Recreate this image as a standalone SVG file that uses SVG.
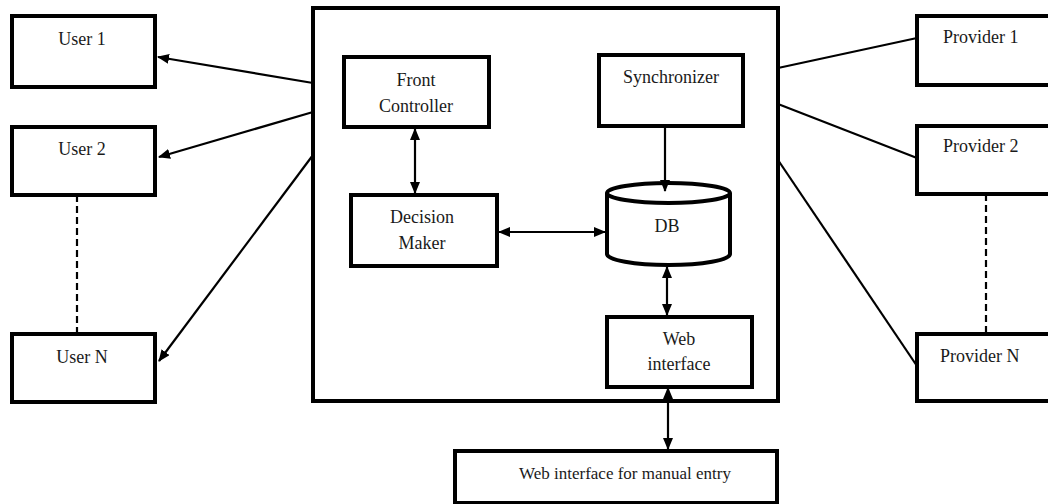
<svg xmlns="http://www.w3.org/2000/svg" width="1048" height="504" viewBox="0 0 1048 504">
  <style>
    .box { fill: #fff; stroke: #000; stroke-width: 4; }
    .lbl { font-family: "Liberation Serif", "Times New Roman", serif; font-size: 18px; fill: #1a1a1a; }
    .mid { text-anchor: middle; }
    .wire { fill: none; stroke: #000; stroke-width: 2.2; }
    .dash { fill: none; stroke: #000; stroke-width: 2.2; stroke-dasharray: 7 4; }
  </style>
  <defs>
    <marker id="tip" markerUnits="userSpaceOnUse" markerWidth="12" markerHeight="10" refX="11" refY="5" orient="auto-start-reverse">
      <path d="M0,0 L12,5 L0,10 z" fill="#000"/>
    </marker>
  </defs>
  <rect width="1048" height="504" fill="#fff"/>

  <!-- server enclosure -->
  <g id="server">
    <rect class="box" x="313" y="8" width="465" height="393"/>
  </g>

  <!-- users -->
  <g id="user1">
    <rect class="box" x="12" y="16" width="143" height="71"/>
    <text class="lbl mid" x="82" y="45">User 1</text>
  </g>
  <g id="user2">
    <rect class="box" x="12" y="127" width="143" height="68"/>
    <text class="lbl mid" x="82" y="155">User 2</text>
  </g>
  <g id="userN">
    <rect class="box" x="12" y="334" width="143" height="68"/>
    <text class="lbl mid" x="82" y="363">User N</text>
  </g>

  <!-- providers -->
  <g id="provider1">
    <rect class="box" x="917" y="16" width="140" height="69"/>
    <text class="lbl" x="943" y="43">Provider 1</text>
  </g>
  <g id="provider2">
    <rect class="box" x="917" y="126" width="140" height="68"/>
    <text class="lbl" x="943" y="152">Provider 2</text>
  </g>
  <g id="providerN">
    <rect class="box" x="917" y="334" width="140" height="67"/>
    <text class="lbl" x="940" y="362">Provider N</text>
  </g>

  <!-- internal components -->
  <g id="front-controller">
    <rect class="box" x="344" y="57" width="145" height="70"/>
    <text class="lbl mid" x="416" y="86">Front</text>
    <text class="lbl mid" x="416" y="112">Controller</text>
  </g>
  <g id="synchronizer">
    <rect class="box" x="599" y="55" width="144" height="71"/>
    <text class="lbl mid" x="671" y="83">Synchronizer</text>
  </g>
  <g id="decision-maker">
    <rect class="box" x="351" y="195" width="146" height="71"/>
    <text class="lbl mid" x="422" y="223">Decision</text>
    <text class="lbl mid" x="422" y="249">Maker</text>
  </g>
  <g id="db">
    <path class="box" d="M607,193 L607,254 A61.5,11 0 0 0 730,254 L730,193"/>
    <ellipse class="box" cx="668.5" cy="193" rx="61.5" ry="10"/>
    <text class="lbl mid" x="667" y="232">DB</text>
  </g>
  <g id="web-interface">
    <rect class="box" x="607" y="317" width="145" height="70"/>
    <text class="lbl mid" x="679" y="345">Web</text>
    <text class="lbl mid" x="679" y="370">interface</text>
  </g>
  <g id="manual-entry">
    <rect class="box" x="455" y="451" width="322" height="52"/>
    <text class="lbl mid" x="625" y="479" style="font-size:17px">Web interface  for manual entry</text>
  </g>

  <!-- connectors -->
  <g id="connectors">
    <line class="wire" x1="313" y1="83" x2="158" y2="57" marker-end="url(#tip)"/>
    <line class="wire" x1="313" y1="112" x2="159" y2="157" marker-end="url(#tip)"/>
    <line class="wire" x1="313" y1="155" x2="159" y2="361" marker-end="url(#tip)"/>
    <line class="dash" x1="77" y1="195" x2="77" y2="334"/>

    <line class="wire" x1="778" y1="68" x2="917" y2="38"/>
    <line class="wire" x1="778" y1="104" x2="917" y2="158"/>
    <line class="wire" x1="778" y1="160" x2="917" y2="366"/>
    <line class="dash" x1="986" y1="194" x2="986" y2="334"/>

    <line class="wire" x1="415" y1="129" x2="415" y2="193" marker-start="url(#tip)" marker-end="url(#tip)"/>
    <line class="wire" x1="665" y1="127" x2="665" y2="191" marker-end="url(#tip)"/>
    <line class="wire" x1="499" y1="232" x2="605" y2="232" marker-start="url(#tip)" marker-end="url(#tip)"/>
    <line class="wire" x1="667" y1="267" x2="667" y2="315" marker-start="url(#tip)" marker-end="url(#tip)"/>
    <line class="wire" x1="668" y1="388" x2="668" y2="449" marker-start="url(#tip)" marker-end="url(#tip)"/>
  </g>
</svg>
